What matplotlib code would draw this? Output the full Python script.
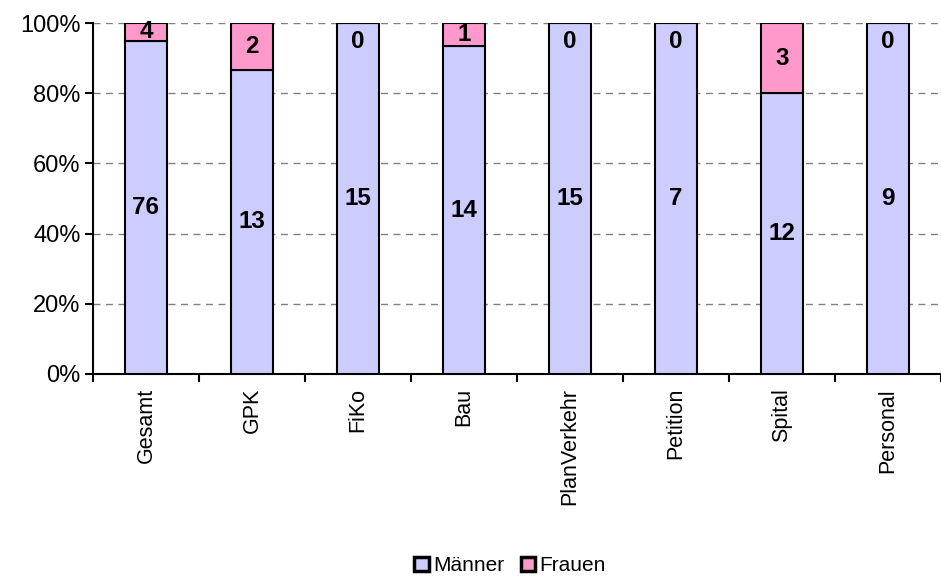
import matplotlib.pyplot as plt
import numpy as np

plt.rcParams['font.family'] = ['Liberation Sans', 'DejaVu Sans']

# data
categories = ['Gesamt', 'GPK', 'FiKo', 'Bau', 'PlanVerkehr', 'Petition', 'Spital', 'Personal']
maenner = [76, 13, 15, 14, 15, 7, 12, 9]
frauen = [4, 2, 0, 1, 0, 0, 3, 0]

m = np.array(maenner, dtype=float)
f = np.array(frauen, dtype=float)
total = m + f
pm = m / total * 100
pf = f / total * 100

fig = plt.figure(figsize=(9.41, 5.81), dpi=100)
ax = fig.add_axes([0.0988, 0.3563, 0.9012, 0.6041])

x = np.arange(len(categories))
w = 0.4
colM = '#CCCCFF'
colF = '#FF99CC'

ax.bar(x, pm, w, color=colM, edgecolor='black', linewidth=1.5, label='Männer', zorder=3)
ax.bar(x, pf, w, bottom=pm, color=colF, edgecolor='black', linewidth=1.5, label='Frauen', zorder=3)

# value labels
lblsize = 17.5
for i in range(len(categories)):
    ax.text(x[i], pm[i] / 2, str(maenner[i]), ha='center', va='center',
            fontsize=lblsize, fontweight='bold', zorder=4)
    if frauen[i] > 0:
        ax.text(x[i], pm[i] + pf[i] / 2, str(frauen[i]), ha='center', va='center',
                fontsize=lblsize, fontweight='bold', zorder=4)
    else:
        ax.annotate(str(frauen[i]), (x[i], 100), xytext=(0, -18), textcoords='offset pixels',
                    ha='center', va='center', fontsize=lblsize, fontweight='bold', zorder=4)

ax.set_xlim(-0.5, len(categories) - 0.5)
ax.set_ylim(0, 100)
ax.set_yticks(np.arange(0, 101, 20))
ax.set_yticklabels([f'{v}%' for v in range(0, 101, 20)], fontsize=17)
ax.yaxis.grid(True, linestyle=(0, (5, 4)), color='#808080', linewidth=1, zorder=0)

# ticks at category boundaries, labels at centres
ax.set_xticks(np.arange(-0.5, len(categories), 1))
ax.set_xticklabels([])
ax.set_xticks(x, minor=True)
ax.set_xticklabels(categories, minor=True, rotation=90, fontsize=15.5)
ax.tick_params(axis='x', which='minor', length=0, pad=10)
ax.tick_params(axis='x', which='major', length=6, width=1.5, direction='out')
ax.tick_params(axis='y', length=6, width=1.5, direction='out', pad=3)

for s in ['top', 'right']:
    ax.spines[s].set_visible(False)
ax.spines['left'].set_linewidth(1.5)
ax.spines['bottom'].set_linewidth(1.5)

leg = fig.legend(loc='center', bbox_to_anchor=(0.542, 0.026), ncol=2, frameon=False,
                 fontsize=15, handlelength=0.7, handleheight=0.7, handletextpad=0.2,
                 columnspacing=0.8)
for h in leg.legend_handles:
    h.set_linewidth(2.5)

fig.savefig('out.png', dpi=100)
